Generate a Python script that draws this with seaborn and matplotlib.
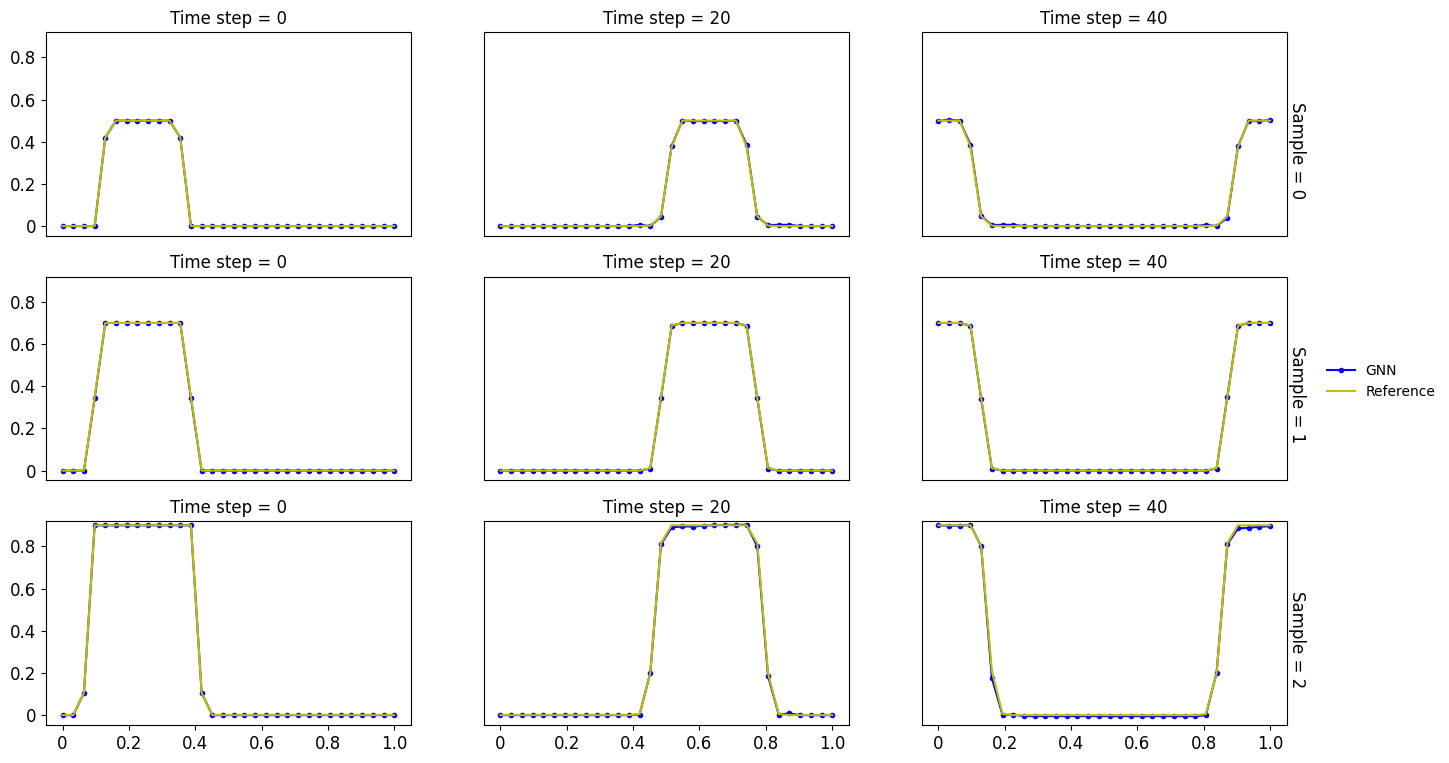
import numpy as np
import pandas as pd
import matplotlib
matplotlib.use('Agg')
import matplotlib.pyplot as plt
import seaborn as sns
from matplotlib.ticker import FuncFormatter

### Data
############################################################################

x_grid = np.linspace(0, 1, 32)
samples = [0, 1, 2]
time_steps = [0, 20, 40]

# GNN predictions
gnn_s0_t0 = [0, 0, 0, 0, 0.42, 0.5, 0.5, 0.5, 0.5, 0.5, 0.5, 0.42, 0, 0, 0, 0,
             0, 0, 0, 0, 0, 0, 0, 0, 0, 0, 0, 0, 0, 0, 0, 0]
gnn_s0_t20 = [0, 0, 0, 0, 0, 0, 0, 0, 0, 0, 0, 0, 0, 0.006, 0.0, 0.044,
              0.38, 0.5, 0.498, 0.498, 0.498, 0.498, 0.5, 0.386, 0.044, 0.005, 0.006, 0.006, 0, 0, 0, 0]
gnn_s0_t40 = [0.498, 0.505, 0.5, 0.386, 0.048, 0.005, 0.006, 0.006, 0, 0, 0, 0, 0, 0, 0, 0,
              0, 0, 0, 0, 0, 0, 0, 0, 0, 0.006, 0.0, 0.04, 0.378, 0.5, 0.498, 0.503]
gnn_s1_t0 = [0, 0, 0, 0.343, 0.7, 0.7, 0.7, 0.7, 0.7, 0.7, 0.7, 0.7, 0.343, 0, 0, 0,
             0, 0, 0, 0, 0, 0, 0, 0, 0, 0, 0, 0, 0, 0, 0, 0]
gnn_s1_t20 = [0, 0, 0, 0, 0, 0, 0, 0, 0, 0, 0, 0, 0, 0, 0.01, 0.343,
              0.687, 0.7, 0.7, 0.7, 0.7, 0.7, 0.7, 0.687, 0.343, 0.01, 0, 0, 0, 0, 0, 0]
gnn_s1_t40 = [0.7, 0.7, 0.7, 0.687, 0.34, 0.01, 0, 0, 0, 0, 0, 0, 0, 0, 0, 0,
              0, 0, 0, 0, 0, 0, 0, 0, 0, 0, 0.01, 0.35, 0.687, 0.7, 0.7, 0.7]
gnn_s2_t0 = [0, 0, 0.105, 0.9, 0.9, 0.9, 0.9, 0.9, 0.9, 0.9, 0.9, 0.9, 0.9, 0.105, 0, 0,
             0, 0, 0, 0, 0, 0, 0, 0, 0, 0, 0, 0, 0, 0, 0, 0]
gnn_s2_t20 = [0, 0, 0, 0, 0, 0, 0, 0, 0, 0, 0, 0, 0, 0.003, 0.2, 0.81,
              0.89, 0.895, 0.894, 0.898, 0.9, 0.902, 0.902, 0.903, 0.8, 0.187, 0.003, 0.008, 0, 0, 0, 0]
gnn_s2_t40 = [0.9, 0.898, 0.898, 0.902, 0.8, 0.176, 0.0, 0.003, -0.005, -0.005, -0.005, -0.005, -0.005, -0.005, -0.005, -0.005,
              -0.005, -0.005, -0.005, -0.005, -0.005, -0.005, -0.005, -0.005, -0.005, 0.0, 0.202, 0.81, 0.885, 0.888, 0.893, 0.896]

# Reference solution
ref_s0_t0 = [0, 0, 0, 0, 0.42, 0.5, 0.5, 0.5, 0.5, 0.5, 0.5, 0.42, 0, 0, 0, 0,
             0, 0, 0, 0, 0, 0, 0, 0, 0, 0, 0, 0, 0, 0, 0, 0]
ref_s0_t20 = [0, 0, 0, 0, 0, 0, 0, 0, 0, 0, 0, 0, 0, 0, 0.002, 0.046,
              0.376, 0.5, 0.5, 0.5, 0.5, 0.5, 0.5, 0.376, 0.046, 0.002, 0, 0, 0, 0, 0, 0]
ref_s0_t40 = [0.5, 0.5, 0.5, 0.376, 0.046, 0.002, 0, 0, 0, 0, 0, 0, 0, 0, 0, 0,
              0, 0, 0, 0, 0, 0, 0, 0, 0, 0, 0.002, 0.046, 0.376, 0.5, 0.5, 0.5]
ref_s1_t0 = [0, 0, 0, 0.35, 0.7, 0.7, 0.7, 0.7, 0.7, 0.7, 0.7, 0.7, 0.35, 0, 0, 0,
             0, 0, 0, 0, 0, 0, 0, 0, 0, 0, 0, 0, 0, 0, 0, 0]
ref_s1_t20 = [0, 0, 0, 0, 0, 0, 0, 0, 0, 0, 0, 0, 0, 0, 0.012, 0.345,
              0.688, 0.7, 0.7, 0.7, 0.7, 0.7, 0.7, 0.688, 0.345, 0.012, 0, 0, 0, 0, 0, 0]
ref_s1_t40 = [0.7, 0.7, 0.7, 0.688, 0.345, 0.012, 0, 0, 0, 0, 0, 0, 0, 0, 0, 0,
              0, 0, 0, 0, 0, 0, 0, 0, 0, 0, 0.012, 0.345, 0.688, 0.7, 0.7, 0.7]
ref_s2_t0 = [0, 0, 0.105, 0.9, 0.9, 0.9, 0.9, 0.9, 0.9, 0.9, 0.9, 0.9, 0.9, 0.105, 0, 0,
             0, 0, 0, 0, 0, 0, 0, 0, 0, 0, 0, 0, 0, 0, 0, 0]
ref_s2_t20 = [0, 0, 0, 0, 0, 0, 0, 0, 0, 0, 0, 0, 0, 0.005, 0.2, 0.815,
              0.9, 0.9, 0.9, 0.9, 0.9, 0.9, 0.9, 0.9, 0.815, 0.2, 0.005, 0, 0, 0, 0, 0]
ref_s2_t40 = [0.9, 0.9, 0.9, 0.9, 0.8, 0.21, 0.005, 0, 0, 0, 0, 0, 0, 0, 0, 0,
              0, 0, 0, 0, 0, 0, 0, 0, 0, 0.005, 0.2, 0.815, 0.9, 0.9, 0.9, 0.9]

gnn = {(0, 0): gnn_s0_t0, (0, 20): gnn_s0_t20, (0, 40): gnn_s0_t40,
       (1, 0): gnn_s1_t0, (1, 20): gnn_s1_t20, (1, 40): gnn_s1_t40,
       (2, 0): gnn_s2_t0, (2, 20): gnn_s2_t20, (2, 40): gnn_s2_t40}
ref = {(0, 0): ref_s0_t0, (0, 20): ref_s0_t20, (0, 40): ref_s0_t40,
       (1, 0): ref_s1_t0, (1, 20): ref_s1_t20, (1, 40): ref_s1_t40,
       (2, 0): ref_s2_t0, (2, 20): ref_s2_t20, (2, 40): ref_s2_t40}

rows = []
for (s, t), vals in gnn.items():
	for xi, ui in zip(x_grid, vals):
		rows.append({'x': xi, 'u': ui, 'Sample': s, 'Time step': t, 'Model': 'GNN'})
for (s, t), vals in ref.items():
	for xi, ui in zip(x_grid, vals):
		rows.append({'x': xi, 'u': ui, 'Sample': s, 'Time step': t, 'Model': 'Reference'})
df = pd.DataFrame(rows)

### Plot
############################################################################

plt.rcParams['xtick.labelsize'] = 12
plt.rcParams['ytick.labelsize'] = 12
plt.rcParams['axes.titlesize'] = 12

def draw(data, **kws):
	ax = plt.gca()
	d1 = data[data['Model'] == 'GNN']
	d2 = data[data['Model'] == 'Reference']
	ax.plot(d1['x'], d1['u'], color='b', marker='.', label='GNN')
	ax.plot(d2['x'], d2['u'], color='y', label='Reference')

g = sns.FacetGrid(df, row='Sample', col='Time step', margin_titles=True,
                  despine=False, sharex=True, sharey=True, height=2.5, aspect=1.8)
g.map_dataframe(draw)
g.set_titles(row_template='', col_template='Time step = {col_name}', size=12)
g.set_axis_labels('', '')

fmt = FuncFormatter(lambda v, p: '0' if abs(v) < 1e-9 else f'{v:.1f}')
for i, s in enumerate(samples):
	for j, t in enumerate(time_steps):
		ax = g.axes[i, j]
		ax.set_title(f'Time step = {t}', fontsize=12)
		ax.set_ylim(-0.046, 0.92)
		ax.xaxis.set_major_formatter(fmt)
		ax.yaxis.set_major_formatter(fmt)
		if i < 2:
			ax.tick_params(axis='x', bottom=False, labelbottom=False)
		if j > 0:
			ax.tick_params(axis='y', left=False, labelleft=False)
	# row title on the right
	g.axes[i, -1].annotate(f'Sample = {s}', xy=(1.004, 0.42), xycoords='axes fraction',
	                       rotation=270, ha='left', va='center', fontsize=12)

fig = g.figure
fig.set_size_inches(14.49, 7.63)
fig.subplots_adjust(left=0.0317, right=0.888, top=0.958, bottom=0.05, wspace=0.2, hspace=0.2)

handles, labels = g.axes[0, 0].get_legend_handles_labels()
fig.legend(handles, labels, loc='center left', bbox_to_anchor=(0.907, 0.5), frameon=False, fontsize=10)

fig.savefig('out.png', dpi=100)
